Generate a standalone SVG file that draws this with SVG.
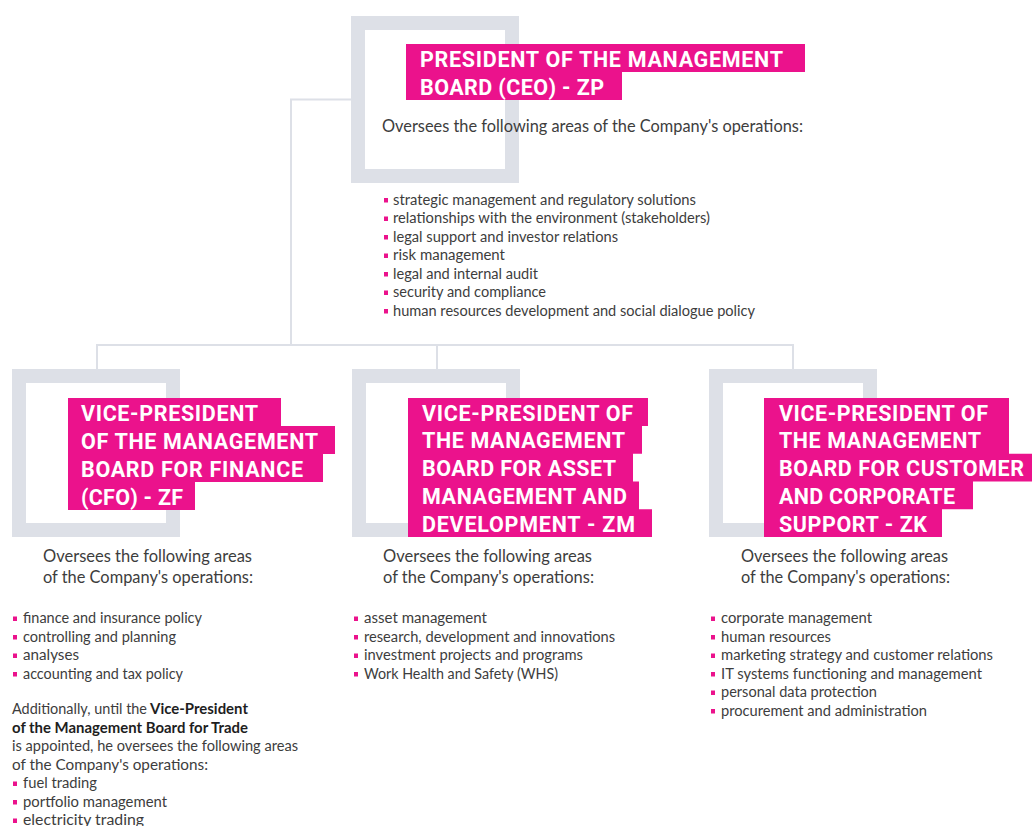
<svg xmlns="http://www.w3.org/2000/svg" width="1032" height="826" viewBox="0 0 1032 826">
<style>
.frame{fill:none;stroke:#dde0e7;stroke-width:14}
.pink{fill:#eb128c}
.conn{fill:none;stroke:#dde0e7;stroke-width:2}
.h{font-family:Roboto,"Liberation Sans",sans-serif;font-weight:700;font-size:21.5px;fill:#ffffff}
.t{font-family:Lato,"Liberation Sans",sans-serif;font-size:16.5px;fill:#3d3d3d}
.b{font-family:Lato,"Liberation Sans",sans-serif;font-size:14.5px;fill:#3d3d3d}
.bb{font-family:Lato,"Liberation Sans",sans-serif;font-size:14.5px;font-weight:700;fill:#1e1e1e}
.dot{fill:#eb128c}
</style>
<rect width="1032" height="826" fill="#ffffff"/>
<g id="connectors">
<path class="conn" d="M351 99.5 H291 V345 M97 369 V345 H793 V369 M437 345 V369"/>
</g>
<g id="ceo">
<rect class="frame" x="358" y="23" width="154" height="153"/>
<path class="pink" d="M406 44 H805 V72 H622 V100 H406 Z"/>
<text class="h" x="420" y="66.5" textLength="363" lengthAdjust="spacing">PRESIDENT OF THE MANAGEMENT</text>
<text class="h" x="420" y="94.5" textLength="184" lengthAdjust="spacing">BOARD (CEO) - ZP</text>
<text class="t" x="382" y="132" textLength="421" lengthAdjust="spacingAndGlyphs">Oversees the following areas of the Company's operations:</text>
<rect class="dot" x="384" y="198" width="4" height="4.5"/>
<rect class="dot" x="384" y="216.5" width="4" height="4.5"/>
<rect class="dot" x="384" y="235" width="4" height="4.5"/>
<rect class="dot" x="384" y="253.5" width="4" height="4.5"/>
<rect class="dot" x="384" y="272" width="4" height="4.5"/>
<rect class="dot" x="384" y="290.5" width="4" height="4.5"/>
<rect class="dot" x="384" y="309" width="4" height="4.5"/>
<text class="b" x="393" y="204.5" textLength="303" lengthAdjust="spacingAndGlyphs">strategic management and regulatory solutions</text>
<text class="b" x="393" y="223" textLength="317" lengthAdjust="spacingAndGlyphs">relationships with the environment (stakeholders)</text>
<text class="b" x="393" y="241.5" textLength="225" lengthAdjust="spacingAndGlyphs">legal support and investor relations</text>
<text class="b" x="393" y="260" textLength="112" lengthAdjust="spacingAndGlyphs">risk management</text>
<text class="b" x="393" y="278.5" textLength="145" lengthAdjust="spacingAndGlyphs">legal and internal audit</text>
<text class="b" x="393" y="297" textLength="153" lengthAdjust="spacingAndGlyphs">security and compliance</text>
<text class="b" x="393" y="315.5" textLength="362" lengthAdjust="spacingAndGlyphs">human resources development and social dialogue policy</text>
</g>
<g id="cfo">
<rect class="frame" x="19" y="376" width="154" height="154"/>
<path class="pink" d="M68 398 H281 V426 H335 V454 H323 V482 H195 V510 H68 Z"/>
<text class="h" x="81" y="420.5" textLength="177" lengthAdjust="spacing">VICE-PRESIDENT</text>
<text class="h" x="81" y="448.5" textLength="237" lengthAdjust="spacing">OF THE MANAGEMENT</text>
<text class="h" x="81" y="476.5" textLength="222" lengthAdjust="spacing">BOARD FOR FINANCE</text>
<text class="h" x="81" y="504.5" textLength="102" lengthAdjust="spacing">(CFO) - ZF</text>
<text class="t" x="43" y="562" textLength="209" lengthAdjust="spacingAndGlyphs">Oversees the following areas</text>
<text class="t" x="43" y="583" textLength="210" lengthAdjust="spacingAndGlyphs">of the Company's operations:</text>
<rect class="dot" x="13" y="616.5" width="4" height="4.5"/>
<rect class="dot" x="13" y="635" width="4" height="4.5"/>
<rect class="dot" x="13" y="653.5" width="4" height="4.5"/>
<rect class="dot" x="13" y="672" width="4" height="4.5"/>
<text class="b" x="23" y="623" textLength="179" lengthAdjust="spacingAndGlyphs">finance and insurance policy</text>
<text class="b" x="23" y="641.5" textLength="153" lengthAdjust="spacingAndGlyphs">controlling and planning</text>
<text class="b" x="23" y="660" textLength="56" lengthAdjust="spacingAndGlyphs">analyses</text>
<text class="b" x="23" y="678.5" textLength="160" lengthAdjust="spacingAndGlyphs">accounting and tax policy</text>
<text class="b" x="12" y="714" textLength="135" lengthAdjust="spacingAndGlyphs">Additionally, until the</text>
<text class="bb" x="150" y="714" textLength="98" lengthAdjust="spacingAndGlyphs">Vice-President</text>
<text class="bb" x="12" y="732.5" textLength="236" lengthAdjust="spacingAndGlyphs">of the Management Board for Trade</text>
<text class="b" x="12" y="751" textLength="286" lengthAdjust="spacingAndGlyphs">is appointed, he oversees the following areas</text>
<text class="b" x="12" y="769.5" textLength="196" lengthAdjust="spacingAndGlyphs">of the Company's operations:</text>
<rect class="dot" x="13" y="781.5" width="4" height="4.5"/>
<rect class="dot" x="13" y="800" width="4" height="4.5"/>
<rect class="dot" x="13" y="818.5" width="4" height="4.5"/>
<text class="b" x="23" y="788" textLength="74" lengthAdjust="spacingAndGlyphs">fuel trading</text>
<text class="b" x="23" y="806.5" textLength="144" lengthAdjust="spacingAndGlyphs">portfolio management</text>
<text class="b" x="23" y="825" textLength="121" lengthAdjust="spacingAndGlyphs">electricity trading</text>
</g>
<g id="zm">
<rect class="frame" x="359" y="376" width="154" height="154"/>
<path class="pink" d="M408 398 H648 V426 H642 V453.7 H633 V481.5 H639 V509.2 H652 V537 H408 Z"/>
<text class="h" x="422" y="420.5" textLength="211" lengthAdjust="spacing">VICE-PRESIDENT OF</text>
<text class="h" x="422" y="448.3" textLength="203" lengthAdjust="spacing">THE MANAGEMENT</text>
<text class="h" x="422" y="476.1" textLength="194" lengthAdjust="spacing">BOARD FOR ASSET</text>
<text class="h" x="422" y="503.9" textLength="205" lengthAdjust="spacing">MANAGEMENT AND</text>
<text class="h" x="422" y="531.7" textLength="213" lengthAdjust="spacing">DEVELOPMENT - ZM</text>
<text class="t" x="383" y="562" textLength="209" lengthAdjust="spacingAndGlyphs">Oversees the following areas</text>
<text class="t" x="383" y="583" textLength="211" lengthAdjust="spacingAndGlyphs">of the Company's operations:</text>
<rect class="dot" x="354" y="616.5" width="4" height="4.5"/>
<rect class="dot" x="354" y="635" width="4" height="4.5"/>
<rect class="dot" x="354" y="653.5" width="4" height="4.5"/>
<rect class="dot" x="354" y="672" width="4" height="4.5"/>
<text class="b" x="364" y="623" textLength="123" lengthAdjust="spacingAndGlyphs">asset management</text>
<text class="b" x="364" y="641.5" textLength="251" lengthAdjust="spacingAndGlyphs">research, development and innovations</text>
<text class="b" x="364" y="660" textLength="219" lengthAdjust="spacingAndGlyphs">investment projects and programs</text>
<text class="b" x="364" y="678.5" textLength="194" lengthAdjust="spacingAndGlyphs">Work Health and Safety (WHS)</text>
</g>
<g id="zk">
<rect class="frame" x="716" y="376" width="154" height="154"/>
<path class="pink" d="M764 398 H1009 V453.7 H1032 V481.5 H973 V509.2 H942 V537 H764 Z"/>
<text class="h" x="779" y="420.5" textLength="209" lengthAdjust="spacing">VICE-PRESIDENT OF</text>
<text class="h" x="779" y="448.3" textLength="202" lengthAdjust="spacing">THE MANAGEMENT</text>
<text class="h" x="779" y="476.1" textLength="245" lengthAdjust="spacing">BOARD FOR CUSTOMER</text>
<text class="h" x="779" y="503.9" textLength="176" lengthAdjust="spacing">AND CORPORATE</text>
<text class="h" x="779" y="531.7" textLength="148" lengthAdjust="spacing">SUPPORT - ZK</text>
<text class="t" x="741" y="562" textLength="207" lengthAdjust="spacingAndGlyphs">Oversees the following areas</text>
<text class="t" x="741" y="583" textLength="209" lengthAdjust="spacingAndGlyphs">of the Company's operations:</text>
<rect class="dot" x="711" y="616.5" width="4" height="4.5"/>
<rect class="dot" x="711" y="635" width="4" height="4.5"/>
<rect class="dot" x="711" y="653.5" width="4" height="4.5"/>
<rect class="dot" x="711" y="672" width="4" height="4.5"/>
<rect class="dot" x="711" y="690.5" width="4" height="4.5"/>
<rect class="dot" x="711" y="709" width="4" height="4.5"/>
<text class="b" x="721" y="623" textLength="151" lengthAdjust="spacingAndGlyphs">corporate management</text>
<text class="b" x="721" y="641.5" textLength="110" lengthAdjust="spacingAndGlyphs">human resources</text>
<text class="b" x="721" y="660" textLength="272" lengthAdjust="spacingAndGlyphs">marketing strategy and customer relations</text>
<text class="b" x="721" y="678.5" textLength="261" lengthAdjust="spacingAndGlyphs">IT systems functioning and management</text>
<text class="b" x="721" y="697" textLength="156" lengthAdjust="spacingAndGlyphs">personal data protection</text>
<text class="b" x="721" y="715.5" textLength="206" lengthAdjust="spacingAndGlyphs">procurement and administration</text>
</g>
</svg>
